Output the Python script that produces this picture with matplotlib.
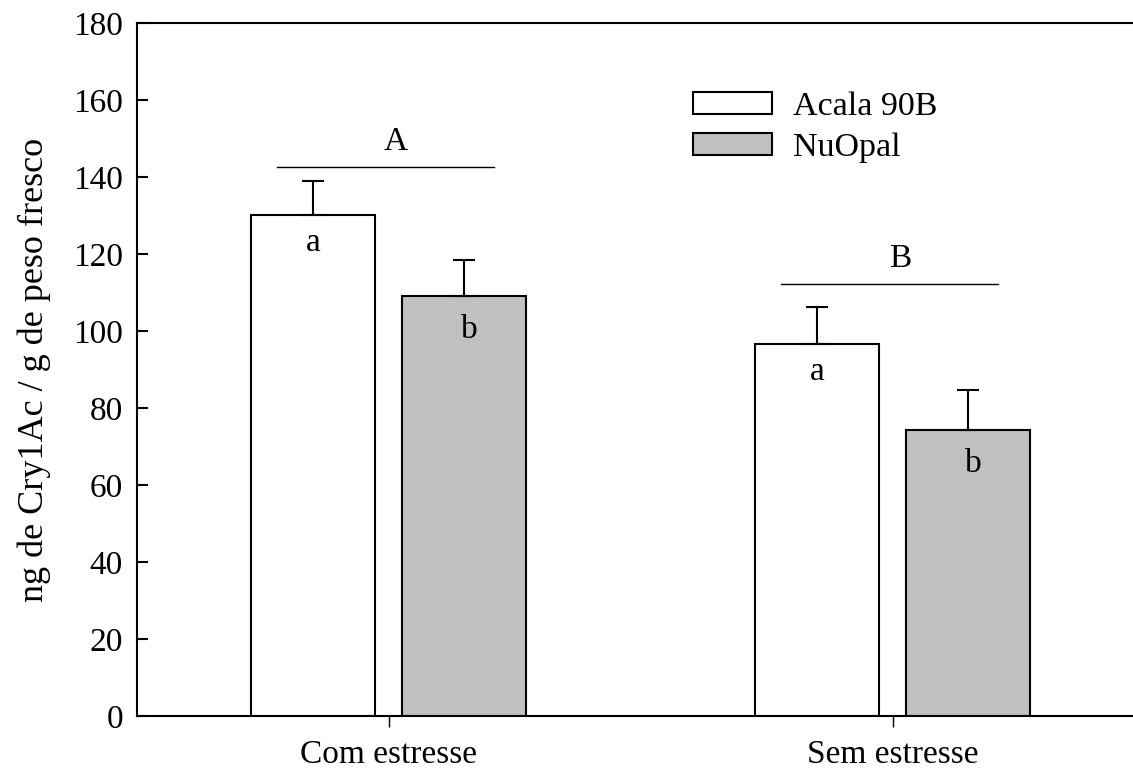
import numpy as np
import matplotlib
matplotlib.use('Agg')
import matplotlib.pyplot as plt

matplotlib.rcParams.update({'font.family': 'Liberation Serif', 'font.size': 24})

categories = ['Com estresse', 'Sem estresse']
series     = ['Acala 90B', 'NuOpal']
acala      = [130.2, 96.7]
nuopal     = [109.1, 74.2]
acala_err  = [8.7, 9.6]
nuopal_err = [9.3, 10.5]
letters_acala  = ['a', 'a']
letters_nuopal = ['b', 'b']
groups     = ['A', 'B']
group_y    = [142.6, 112.3]
yticks     = [0, 20, 40, 60, 80, 100, 120, 140, 160, 180]

fig = plt.figure(figsize=(11.33, 7.73), dpi=100)
ax  = fig.add_axes([137/1133, 1-716/773, 1-137/1133, (716-23)/773])

x     = np.arange(len(categories))
w     = 0.246
off   = 0.15
lw    = 1.5
ekw   = dict(elinewidth=lw, capthick=lw, ecolor='k')

ax.bar(x-off, acala, w, color='white', edgecolor='k', lw=lw, label=series[0],
       yerr=[np.zeros(2), acala_err], capsize=8, error_kw=ekw)
ax.bar(x+off, nuopal, w, color='#c0c0c0', edgecolor='k', lw=lw, label=series[1],
       yerr=[np.zeros(2), nuopal_err], capsize=8, error_kw=ekw)

for i in range(len(categories)):
    ax.text(x[i]-off, acala[i]-7.3, letters_acala[i], ha='center', va='center')
    ax.text(x[i]+off+0.01, nuopal[i]-8.8, letters_nuopal[i], ha='center', va='center')
    ax.plot([x[i]-0.221, x[i]+0.21], [group_y[i]]*2, c='k', lw=1)
    ax.text(x[i]+0.015, group_y[i]+2.5, groups[i], ha='center', va='bottom')

ax.set_xlim(-0.499, 1.477)
ax.set_ylim(0, 180)
ax.set_xticks(x)
ax.set_xticklabels(categories)
ax.set_yticks(yticks)
ax.tick_params(axis='y', direction='in', length=8, width=lw, pad=10)
ax.tick_params(axis='x', direction='out', length=8, width=1, pad=9)
ax.spines['right'].set_visible(False)
for s in ['left', 'bottom', 'top']:
    ax.spines[s].set_linewidth(lw)
ax.set_ylabel('ng de Cry1Ac / g de peso fresco', fontsize=26, labelpad=16)

ax.legend(loc='upper left', bbox_to_anchor=(0.527, 0.945), frameon=False,
          handlelength=2.35, handleheight=0.6, labelspacing=0.3, handletextpad=0.6,
          fontsize=24.5)

plt.savefig('out.png')
